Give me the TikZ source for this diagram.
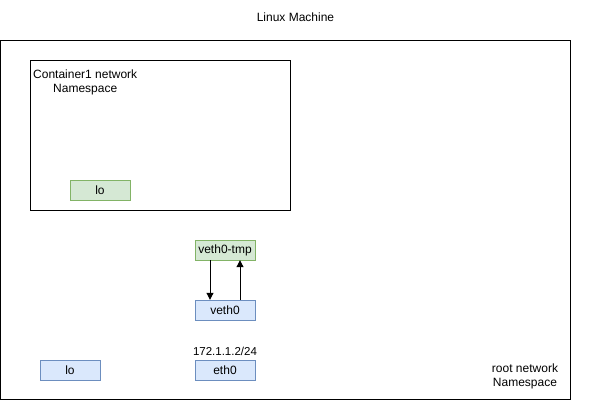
\documentclass[tikz,border=0pt]{standalone}
\usepackage{fontspec}
\setmainfont{Liberation Sans}
\usetikzlibrary{arrows.meta}
\definecolor{gfill}{HTML}{D5E8D4}
\definecolor{gdraw}{HTML}{82B366}
\definecolor{bfill}{HTML}{DAE8FC}
\definecolor{bdraw}{HTML}{6C8EBF}
\begin{document}
\begin{tikzpicture}[x=1pt,y=-1pt,
  greenbox/.style={draw=gdraw,fill=gfill,minimum width=60pt,minimum height=20pt,inner sep=0pt,font=\fontsize{12}{14}\selectfont},
  bluebox/.style={draw=bdraw,fill=bfill,minimum width=60pt,minimum height=20pt,inner sep=0pt,font=\fontsize{12}{14}\selectfont},
  frame/.style={draw=black,line width=1pt},
  lbl/.style={inner sep=0pt,font=\fontsize{12}{14.5}\selectfont},
  arr/.style={-{Triangle[length=7pt,width=7pt]},line width=1pt}]
\useasboundingbox (0,0) rectangle (591,401);
\fill[white] (0,0) rectangle (591,401);
\draw[frame] (0.5,41) rectangle (570.5,399.5);
\draw[frame] (30.7,60.5) rectangle (290,210);
\node[lbl] (title) at (295.5,17) {Linux Machine};
\node[lbl,align=center,anchor=north west] (cname) at (33,69.5) {Container1 network\\Namespace};
\node[lbl,align=center] (root) at (525,376.5) {root network\\Namespace};
\node[greenbox] (clo) at (100,190) {lo};
\node[greenbox] (vtmp) at (225,250) {veth0-tmp};
\node[bluebox] (veth) at (225,310) {veth0};
\node[bluebox] (rlo) at (70,370) {lo};
\node[bluebox] (eth) at (225,370) {eth0};
\node[lbl,font=\fontsize{11.5}{13}\selectfont] (ip) at (225,351) {172.1.1.2/24};
\draw[arr] ([xshift=-15pt]vtmp.south) -- ([xshift=-15pt]veth.north);
\draw[arr] ([xshift=15pt]veth.north) -- ([xshift=15pt]vtmp.south);
\end{tikzpicture}
\end{document}
